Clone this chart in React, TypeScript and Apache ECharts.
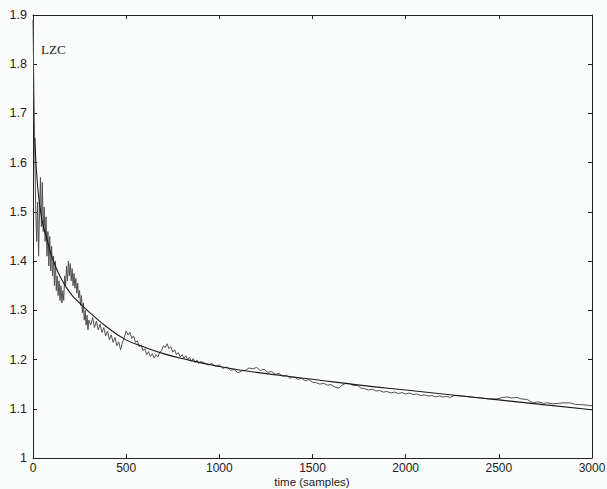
import React, { useEffect, useRef } from "react";
import * as echarts from "echarts";

// LZC noisy estimate [sample, value]
const lzcNoisy: [number, number][] = [
  [0, 1.89], [5, 1.74], [10, 1.61], [15, 1.5], [20, 1.44], [25, 1.52], [30, 1.41], [35, 1.5],
  [40, 1.57], [45, 1.47], [50, 1.56], [55, 1.46], [60, 1.51], [65, 1.44], [70, 1.49], [75, 1.41],
  [80, 1.46], [85, 1.39], [90, 1.45], [95, 1.38], [100, 1.43], [105, 1.37], [110, 1.41], [115, 1.35],
  [120, 1.4], [125, 1.34], [130, 1.37], [135, 1.33], [140, 1.36], [145, 1.32], [150, 1.35], [155, 1.315],
  [160, 1.34], [165, 1.32], [170, 1.37], [175, 1.35], [180, 1.39], [185, 1.36], [190, 1.4], [195, 1.37],
  [200, 1.395], [205, 1.36], [210, 1.385], [215, 1.35], [220, 1.375], [225, 1.345], [230, 1.365], [235, 1.335],
  [240, 1.355], [245, 1.325], [250, 1.34], [255, 1.31], [260, 1.33], [265, 1.295], [270, 1.315], [275, 1.28],
  [280, 1.3], [285, 1.27], [290, 1.29], [295, 1.26], [300, 1.28],
  [310, 1.27], [320, 1.285], [330, 1.265], [340, 1.278], [350, 1.26], [360, 1.272], [370, 1.255], [380, 1.265],
  [390, 1.248], [400, 1.258], [410, 1.24], [420, 1.25], [430, 1.235], [440, 1.245], [450, 1.228], [460, 1.236],
  [470, 1.22], [480, 1.235], [490, 1.245], [500, 1.258], [510, 1.25], [520, 1.255], [530, 1.243], [540, 1.248],
  [550, 1.235], [560, 1.238], [570, 1.226], [580, 1.23], [590, 1.218], [600, 1.222], [610, 1.21], [620, 1.216],
  [630, 1.206], [640, 1.212], [650, 1.203], [660, 1.21], [670, 1.205], [680, 1.215], [690, 1.218], [700, 1.228],
  [710, 1.225], [720, 1.232], [730, 1.222], [740, 1.226], [750, 1.215], [760, 1.22], [770, 1.21], [780, 1.214],
  [790, 1.205], [800, 1.21], [810, 1.202], [820, 1.208], [830, 1.2], [840, 1.205], [850, 1.197], [860, 1.202],
  [870, 1.194], [880, 1.199], [890, 1.192], [900, 1.196],
  [920, 1.193], [940, 1.189], [960, 1.192], [980, 1.186], [1000, 1.189], [1020, 1.182], [1040, 1.185], [1060, 1.178],
  [1080, 1.18], [1100, 1.173], [1120, 1.177], [1140, 1.178], [1160, 1.183], [1180, 1.181], [1200, 1.184], [1220, 1.178],
  [1240, 1.18], [1260, 1.174], [1280, 1.176], [1300, 1.17], [1320, 1.172], [1340, 1.166], [1360, 1.168], [1380, 1.162],
  [1400, 1.165], [1420, 1.16], [1440, 1.162], [1460, 1.157], [1480, 1.159], [1500, 1.154], [1520, 1.153], [1540, 1.15],
  [1560, 1.152], [1580, 1.148], [1600, 1.149], [1620, 1.144], [1640, 1.142], [1660, 1.148], [1680, 1.152], [1700, 1.151],
  [1720, 1.147], [1740, 1.148], [1760, 1.142], [1780, 1.141], [1800, 1.138], [1820, 1.14], [1840, 1.136], [1860, 1.137],
  [1880, 1.134], [1900, 1.135], [1920, 1.132], [1940, 1.134], [1960, 1.131], [1980, 1.133], [2000, 1.13], [2020, 1.132],
  [2040, 1.129], [2060, 1.13], [2080, 1.127], [2100, 1.128], [2120, 1.126], [2140, 1.127], [2160, 1.124], [2180, 1.126],
  [2200, 1.124], [2220, 1.125], [2240, 1.123], [2260, 1.127], [2300, 1.126], [2350, 1.124], [2400, 1.122], [2450, 1.12],
  [2490, 1.12], [2520, 1.123], [2544, 1.124], [2570, 1.122], [2598, 1.123], [2620, 1.12], [2651, 1.119], [2683, 1.112],
  [2710, 1.114], [2740, 1.111], [2759, 1.112], [2790, 1.11], [2820, 1.111], [2844, 1.112], [2882, 1.112], [2910, 1.109],
  [2952, 1.108], [2980, 1.107], [3000, 1.106],
];

// smooth fitted trend [sample, value]
const lzcFit: [number, number][] = [
  [10, 1.65], [25, 1.55], [50, 1.48], [75, 1.445], [100, 1.41], [150, 1.365], [200, 1.335], [250, 1.315],
  [300, 1.297], [400, 1.265], [500, 1.24], [600, 1.225], [700, 1.212], [800, 1.202], [1000, 1.186],
  [1200, 1.174], [1500, 1.16], [1800, 1.146], [2000, 1.138], [2250, 1.128], [2500, 1.118], [2750, 1.108],
  [3000, 1.098],
];

const xRange = [0, 3000];
const yRange = [1, 1.9];
const xStep = 500;
const yStep = 0.1;
const xName = "time (samples)";
const tag = "LZC";

export default function App() {
  const ref = useRef<HTMLDivElement>(null);
  useEffect(() => {
    if (!ref.current) return;
    const chart = echarts.init(ref.current, null, { renderer: "svg" });
    const font = "'Liberation Sans', Arial, sans-serif";
    const axisColor = "#222";
    const baseX = {
      type: "value" as const,
      min: xRange[0],
      max: xRange[1],
      interval: xStep,
      splitLine: { show: false },
      axisLine: { show: true, onZero: false, lineStyle: { color: axisColor, width: 1 } },
      axisTick: { show: true, inside: true, length: 4, lineStyle: { color: axisColor } },
    };
    const baseY = {
      type: "value" as const,
      min: yRange[0],
      max: yRange[1],
      interval: yStep,
      splitLine: { show: false },
      axisLine: { show: true, onZero: false, lineStyle: { color: axisColor, width: 1 } },
      axisTick: { show: true, inside: true, length: 4, lineStyle: { color: axisColor } },
    };
    chart.setOption({
      animation: false,
      backgroundColor: "#fbfcfc",
      grid: { left: 33, right: 15, top: 15, bottom: 31, containLabel: false, outerBoundsMode: "none" },
      xAxis: [
        {
          ...baseX,
          position: "bottom",
          axisLabel: {
            color: axisColor, fontSize: 12, lineHeight: 14, fontFamily: font, margin: 3,
            showMinLabel: true, showMaxLabel: true,
            formatter: (v: number) => String(v),
          },
        },
        { ...baseX, position: "top", axisLabel: { show: false } },
      ],
      yAxis: [
        {
          ...baseY,
          position: "left",
          axisLabel: {
            color: axisColor, fontSize: 12.5, fontFamily: font, margin: 6,
            showMinLabel: true, showMaxLabel: true,
            formatter: (v: number) => String(Math.round(v * 10) / 10),
          },
        },
        { ...baseY, position: "right", axisLabel: { show: false } },
      ],
      graphic: [
        {
          type: "text",
          left: 41,
          top: 43,
          style: { text: tag, fill: "#222", font: "13px 'Liberation Serif', 'Times New Roman', serif" },
        },
        {
          type: "text",
          x: 312,
          y: 476,
          style: {
            text: xName, fill: axisColor, align: "center", verticalAlign: "top", lineHeight: 12,
            font: "11.5px 'Liberation Sans', Arial, sans-serif",
          },
        },
      ],
      series: [
        {
          type: "line",
          data: lzcNoisy,
          showSymbol: false,
          symbol: "none",
          lineStyle: { color: "#505050", width: 1 },
          xAxisIndex: 0,
          yAxisIndex: 0,
          z: 2,
        },
        {
          type: "line",
          data: lzcFit,
          smooth: true,
          showSymbol: false,
          symbol: "none",
          lineStyle: { color: "#1a1a1a", width: 1.1 },
          xAxisIndex: 0,
          yAxisIndex: 0,
          z: 3,
        },
      ],
    });
    return () => chart.dispose();
  }, []);
  return (
    <div
      ref={ref}
      style={{ position: "fixed", left: 0, top: 0, width: 607, height: 489 }}
    />
  );
}
